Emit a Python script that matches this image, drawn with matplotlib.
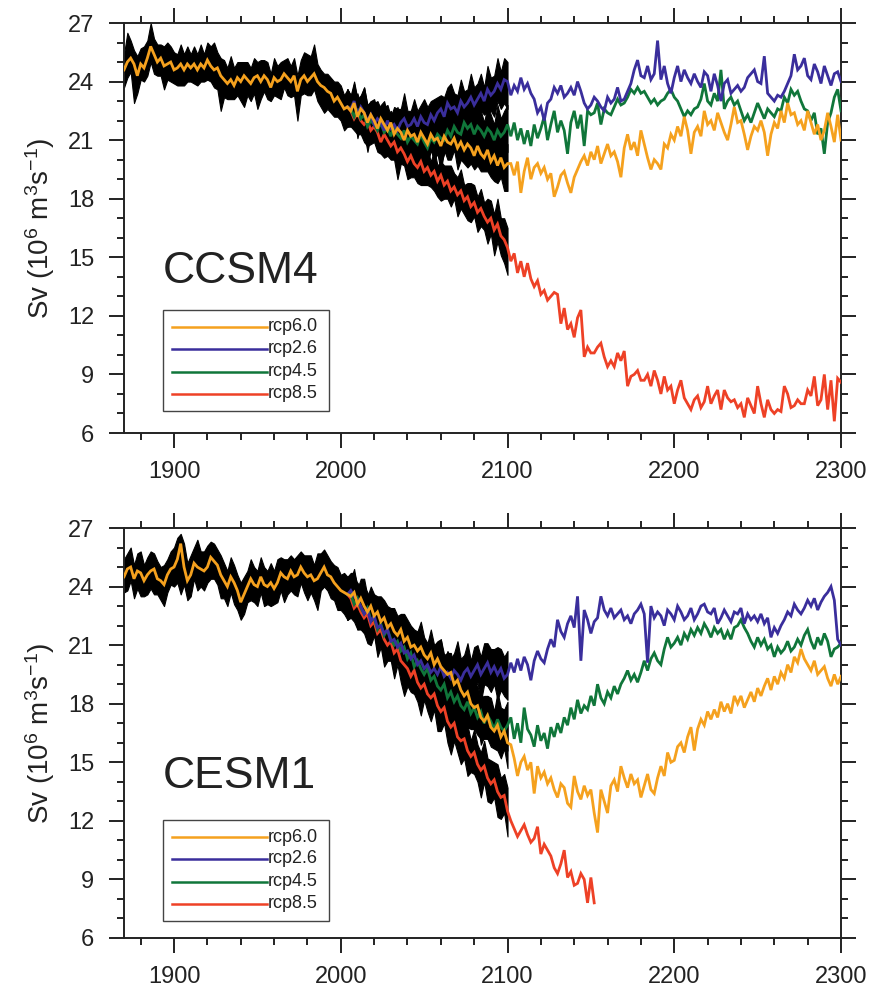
import numpy as np
import matplotlib
matplotlib.use("Agg")
import matplotlib.pyplot as plt
from matplotlib.ticker import MultipleLocator

plt.rcParams['font.family'] = ['Liberation Sans', 'DejaVu Sans']
plt.rcParams['mathtext.fontset'] = 'custom'
plt.rcParams['mathtext.rm'] = 'Liberation Sans'
plt.rcParams['mathtext.it'] = 'Liberation Sans:italic'

# ---------------- time axes (2-yearly samples) ----------------
HIST_START = 1870   # historical run, 1870-2004
SCEN_START = 2006   # scenario ensemble means, 2006-2100
POST_START = 2102   # extensions, 2102-2300
STEP = 2

scenarios = ["rcp6.0", "rcp2.6", "rcp4.5", "rcp8.5"]
colors = {"rcp6.0": "#F5A11E", "rcp2.6": "#3A2E9C", "rcp4.5": "#10763A", "rcp8.5": "#EE4126"}

# ======================= CCSM4 (top) =======================
ccsm4_hist = [24.6, 25.0, 25.2, 24.9, 24.3, 24.9, 24.7, 25.2, 25.8, 25.4,
              25.0, 25.2, 24.8, 24.9, 25.0, 24.6, 24.7, 24.9, 24.6, 24.9,
              24.7, 24.9, 24.6, 24.9, 24.7, 25.1, 24.8, 24.6, 24.7, 24.3,
              24.1, 23.9, 24.1, 23.8, 24.2, 24.0, 24.3, 24.1, 23.9, 24.2,
              24.3, 24.0, 24.3, 24.1, 23.7, 24.2, 24.0, 24.1, 24.4, 24.2,
              24.0, 24.3, 23.5, 24.1, 24.3, 24.0, 24.2, 24.4, 24.0, 23.8,
              23.7, 23.5, 23.4, 23.0, 23.2, 22.9, 22.6, 22.7]
ccsm4_hist_lo = [0.9, 0.8, 0.7, 2.0, 0.9, 0.8, 0.7, 0.9, 0.8, 1.0,
                 0.7, 0.9, 1.2, 0.8, 1.0, 0.7, 0.9, 1.1, 0.8, 0.9,
                 0.7, 1.0, 0.8, 0.9, 0.7, 1.0, 0.8, 0.9, 1.1, 1.8,
                 0.9, 0.8, 1.0, 0.7, 0.9, 1.0, 1.6, 0.8, 0.9, 0.8,
                 1.7, 0.9, 0.8, 1.0, 0.7, 0.9, 0.8, 1.0, 0.7, 0.9,
                 0.8, 1.0, 1.5, 0.8, 0.9, 0.7, 0.9, 0.8, 1.0, 1.1,
                 1.3, 0.9, 1.0, 0.8, 1.0, 0.9, 1.1, 1.0]
ccsm4_hist_hi = [0.8, 1.5, 0.9, 0.7, 1.0, 0.8, 1.1, 0.9, 1.2, 0.8,
                 0.9, 0.7, 1.0, 1.1, 0.8, 0.9, 0.7, 1.0, 0.8, 0.9,
                 0.7, 0.9, 0.8, 1.0, 0.7, 0.9, 1.0, 1.4, 0.8, 0.9,
                 1.0, 0.8, 1.2, 0.9, 0.8, 1.0, 0.7, 0.9, 0.8, 1.0,
                 0.7, 1.1, 0.8, 0.9, 0.7, 1.0, 0.8, 0.9, 0.7, 1.0,
                 0.8, 0.9, 0.8, 1.0, 1.2, 1.4, 1.1, 1.5, 0.9, 0.8,
                 0.7, 0.9, 0.8, 1.0, 0.8, 0.9, 0.7, 0.9]

ccsm4_scen_rcp60 = [22.5, 22.9, 22.2, 22.6, 22.4, 21.9, 22.3, 22.0, 21.6, 22.1,
                    21.8, 21.5, 21.9, 21.3, 21.6, 21.4, 21.0, 21.5, 21.2, 21.3,
                    20.9, 21.4, 21.1, 20.8, 21.3, 21.0, 21.1, 20.7, 21.2, 20.9,
                    20.8, 21.1, 20.6, 20.9, 20.5, 20.8, 20.6, 20.2, 20.7, 20.3,
                    20.1, 20.5, 19.9, 20.2, 19.7, 20.1, 19.6, 19.8]
ccsm4_scen_rcp26 = [22.6, 23.0, 22.3, 22.7, 22.4, 22.0, 22.3, 21.8, 22.1, 21.9,
                    21.5, 22.0, 21.6, 21.8, 21.5, 21.9, 22.1, 21.7, 21.8, 22.1,
                    21.7, 22.2, 21.9, 21.8, 22.3, 22.0, 22.4, 22.6, 22.2, 22.9,
                    22.6, 22.7, 22.4, 23.0, 22.7, 22.9, 23.2, 22.8, 23.1, 23.4,
                    23.0, 23.6, 23.3, 23.5, 23.9, 23.6, 24.1, 24.0]
ccsm4_scen_rcp45 = [22.6, 22.2, 22.6, 22.1, 22.3, 21.7, 22.0, 21.8, 21.5, 21.9,
                    21.4, 21.6, 21.2, 21.7, 21.3, 21.1, 21.5, 20.9, 21.2, 21.0,
                    20.8, 21.3, 20.9, 20.6, 21.1, 20.9, 21.3, 21.1, 21.0, 21.5,
                    21.2, 21.7, 21.4, 21.3, 21.9, 21.6, 21.8, 21.3, 21.7, 21.5,
                    21.2, 21.6, 21.4, 21.0, 21.5, 21.2, 21.4, 21.8]
ccsm4_scen_rcp85 = [22.5, 22.1, 22.4, 22.0, 21.8, 22.0, 21.5, 21.7, 21.4, 20.9,
                    21.3, 21.0, 20.7, 20.9, 20.4, 20.6, 20.3, 19.9, 20.2, 19.8,
                    19.6, 19.9, 19.4, 19.6, 19.2, 19.4, 18.9, 19.2, 18.7, 18.9,
                    18.4, 18.6, 18.2, 18.4, 17.9, 18.1, 17.6, 17.8, 17.3, 17.5,
                    17.1, 16.8, 17.0, 16.4, 16.7, 16.1, 15.9, 15.5]
ccsm4_scen_lo = [0.8, 0.6, 1.1, 0.7, 0.9, 1.3, 0.7, 0.8, 1.0, 0.6,
                 1.2, 0.8, 0.7, 0.9, 1.4, 0.8, 0.6, 0.9, 1.1, 0.7,
                 0.8, 1.2, 0.7, 0.9, 0.6, 1.0, 0.8, 1.3, 0.7, 0.9,
                 0.8, 0.6, 1.1, 0.9, 0.7, 1.2, 0.8, 0.7, 1.0, 0.9,
                 0.7, 1.1, 0.8, 1.3, 0.9, 1.0, 1.2, 1.4]
ccsm4_scen_hi = [0.7, 1.0, 0.8, 0.6, 1.3, 0.8, 0.7, 1.1, 0.9, 0.7,
                 1.2, 0.8, 0.6, 0.9, 1.1, 0.7, 1.3, 0.8, 0.7, 1.0,
                 0.8, 0.6, 1.2, 0.9, 0.7, 1.1, 0.8, 0.7, 1.0, 0.8,
                 1.3, 0.7, 0.9, 1.1, 0.8, 0.7, 1.2, 0.9, 0.8, 1.0,
                 0.7, 1.2, 0.9, 0.8, 1.3, 0.9, 1.1, 1.0]

ccsm4_post_rcp60 = [19.8, 19.2, 19.9, 18.3, 19.4, 20.1, 19.0, 19.6, 19.8, 19.3,
                    19.6, 19.0, 19.3, 18.1, 18.6, 19.2, 19.4, 18.8, 18.3, 19.1,
                    19.5, 19.9, 20.2, 19.7, 20.4, 20.0, 20.7, 19.8, 20.3, 20.8,
                    20.2, 20.4, 19.9, 19.1, 20.6, 21.3, 20.5, 20.9, 20.2, 21.5,
                    20.8, 20.1, 19.5, 20.0, 19.8, 19.5, 20.8, 20.6, 21.3, 21.0,
                    21.7, 21.2, 22.2, 21.5, 20.3, 21.4, 21.7, 21.2, 22.5, 21.8,
                    22.0, 21.5, 22.4, 21.9, 21.4, 21.0, 21.8, 22.7, 21.9, 22.0,
                    21.3, 20.5, 21.2, 21.7, 21.5, 22.0, 21.4, 20.2, 21.3, 21.9,
                    21.6, 22.5, 21.9, 22.9, 22.3, 22.4, 21.8, 22.0, 21.5, 22.5,
                    21.9, 21.3, 21.8, 21.0, 21.5, 22.4, 21.7, 20.9, 22.3, 21.0]
ccsm4_post_rcp26 = [23.3, 23.8, 23.5, 24.2, 23.6, 23.9, 23.4, 23.1, 22.4, 22.7,
                    22.0, 22.9, 23.1, 23.7, 23.4, 23.8, 23.2, 23.4, 23.7, 23.3,
                    24.0, 23.5, 22.9, 22.6, 22.8, 23.2, 23.0, 22.7, 22.5, 23.2,
                    22.9, 23.1, 23.7, 23.0, 23.1, 23.5, 23.9, 24.6, 25.1, 24.3,
                    24.2, 24.8, 24.1, 24.4, 26.1, 24.1, 24.8, 23.9, 23.4, 24.2,
                    24.8, 24.0, 24.6, 24.2, 23.9, 24.4, 24.0, 23.7, 24.5, 24.3,
                    23.5, 24.4, 23.8, 23.0, 23.9, 24.1, 23.4, 23.6, 23.8, 23.5,
                    23.7, 24.2, 24.4, 24.6, 24.0, 23.9, 25.3, 23.4, 23.2, 23.0,
                    23.3, 23.2, 23.5, 23.9, 24.3, 25.4, 24.6, 24.8, 25.2, 24.3,
                    24.1, 24.9, 24.5, 23.9, 24.8, 24.3, 23.8, 24.4, 24.5, 24.0]
ccsm4_post_rcp45 = [21.2, 21.9, 21.0, 21.6, 20.8, 21.5, 20.7, 21.8, 21.1, 21.6,
                    22.2, 21.0, 21.8, 22.5, 21.4, 22.0, 21.5, 20.3, 21.9, 22.5,
                    21.6, 22.3, 20.7, 22.5, 22.3, 22.4, 22.9, 21.8, 22.6, 22.4,
                    22.3, 22.7, 23.1, 22.8, 22.9, 23.2, 23.6, 23.4, 23.7, 23.4,
                    23.5, 23.2, 22.9, 23.1, 22.8, 23.0, 23.1, 23.4, 23.6, 23.2,
                    23.0, 22.6, 22.2, 22.5, 22.3, 22.6, 22.7, 23.1, 23.9, 23.0,
                    22.8, 23.4, 23.0, 24.6, 22.6, 23.0, 23.2, 22.8, 23.0, 22.5,
                    22.0, 22.3, 21.9, 22.4, 22.9, 22.5, 22.1, 22.6, 22.4, 22.2,
                    22.6, 22.5, 23.2, 22.9, 23.6, 23.3, 23.5, 23.0, 22.6, 22.5,
                    22.0, 22.4, 21.3, 21.6, 20.3, 21.9, 22.4, 23.2, 23.6, 22.5]
ccsm4_post_rcp85 = [14.8, 15.2, 14.2, 14.8, 14.0, 14.7, 13.9, 13.5, 13.8, 13.1,
                    13.3, 12.8, 13.0, 13.2, 13.1, 11.6, 12.4, 11.3, 11.6, 10.9,
                    11.9, 12.3, 9.9, 10.4, 10.1, 10.1, 10.4, 10.6, 9.9, 9.4,
                    9.7, 9.4, 10.1, 9.7, 10.2, 8.4, 8.9, 9.0, 9.2, 8.7,
                    8.7, 9.0, 8.4, 9.2, 8.7, 8.0, 8.9, 8.2, 8.4, 7.5,
                    8.2, 8.7, 7.8, 7.5, 7.2, 7.7, 7.9, 7.3, 7.6, 8.4,
                    7.5, 7.9, 8.2, 7.2, 8.2, 7.8, 7.6, 7.7, 7.3, 7.5,
                    6.8, 7.8, 7.4, 7.0, 8.4, 7.5, 6.8, 7.7, 7.2, 7.0,
                    7.2, 7.1, 8.4, 8.0, 7.3, 7.4, 7.7, 7.5, 7.5, 8.2,
                    7.9, 8.9, 7.4, 7.7, 9.0, 7.2, 8.7, 6.6, 8.8, 8.6]

# ======================= CESM1 (bottom) =======================
cesm1_hist = [24.5, 24.9, 25.0, 24.4, 24.8, 24.7, 24.3, 24.6, 24.8, 24.9,
              24.4, 24.3, 24.1, 24.6, 24.9, 25.0, 25.4, 26.2, 25.0, 24.3,
              24.6, 25.2, 25.0, 24.9, 24.8, 25.0, 25.5, 25.3, 25.1, 24.6,
              24.3, 24.0, 24.5, 24.2, 23.8, 23.2, 23.6, 24.0, 24.4, 24.1,
              24.0, 24.5, 24.1, 24.0, 24.2, 23.9, 24.2, 24.7, 24.5, 24.4,
              24.8, 24.5, 24.6, 25.0, 24.7, 24.5, 24.6, 24.3, 24.4, 24.7,
              25.0, 24.6, 24.5, 24.2, 24.0, 23.8, 23.7, 23.6]
cesm1_hist_lo = [0.8, 1.1, 0.7, 1.0, 0.9, 1.2, 0.8, 1.0, 0.9, 1.3,
                 0.8, 1.0, 1.1, 0.9, 0.8, 1.0, 1.2, 2.6, 0.9, 1.0,
                 1.1, 0.8, 1.2, 0.9, 1.0, 0.8, 1.1, 0.9, 1.0, 1.2,
                 0.9, 1.0, 0.8, 1.1, 1.0, 0.9, 1.0, 0.8, 1.1, 0.9,
                 1.0, 0.8, 1.1, 0.9, 1.2, 0.8, 1.0, 0.9, 1.3, 0.8,
                 1.0, 0.9, 1.1, 0.8, 1.0, 1.2, 0.9, 1.0, 1.6, 0.9,
                 1.0, 0.8, 1.1, 0.9, 1.2, 1.0, 1.1, 1.3]
cesm1_hist_hi = [0.9, 0.8, 1.0, 0.7, 0.9, 1.1, 0.8, 0.9, 1.0, 0.8,
                 0.9, 0.7, 1.0, 0.8, 0.9, 1.0, 1.1, 0.5, 1.2, 0.9,
                 1.0, 0.8, 1.4, 0.9, 1.0, 1.1, 0.8, 0.9, 0.8, 1.0,
                 0.9, 0.8, 1.0, 0.9, 0.8, 1.0, 0.9, 0.8, 1.0, 0.9,
                 0.8, 1.0, 0.9, 0.8, 1.0, 0.9, 1.2, 0.8, 0.9, 1.0,
                 0.8, 0.9, 1.0, 0.8, 0.9, 1.1, 1.0, 0.8, 1.3, 1.0,
                 0.9, 1.0, 0.8, 0.9, 1.0, 0.8, 1.0, 0.9]

cesm1_scen_rcp60 = [23.5, 23.7, 23.1, 23.4, 23.0, 22.7, 23.0, 22.5, 22.7, 22.2,
                    22.4, 21.9, 22.1, 21.7, 21.5, 21.8, 21.2, 21.4, 20.9, 21.0,
                    20.7, 20.9, 20.5, 20.3, 20.6, 20.0, 20.3, 19.9, 19.7, 19.5,
                    19.6, 19.0, 19.2, 18.7, 18.4, 18.6, 18.0, 17.8, 17.9, 17.3,
                    17.1, 17.4, 16.8, 16.6, 16.9, 16.3, 16.6, 16.0]
cesm1_scen_rcp26 = [23.8, 23.5, 23.3, 23.0, 22.6, 22.8, 22.2, 22.5, 21.9, 22.0,
                    21.6, 21.8, 21.2, 21.3, 20.9, 21.1, 20.6, 20.7, 20.3, 20.5,
                    20.0, 20.2, 19.8, 20.0, 19.6, 19.8, 19.5, 19.9, 19.4, 19.6,
                    19.3, 19.7, 19.5, 19.2, 19.6, 19.8, 19.4, 19.7, 20.0, 19.5,
                    19.8, 20.1, 19.6, 19.9, 19.5, 19.8, 19.3, 19.5]
cesm1_scen_rcp45 = [23.6, 23.1, 23.4, 22.9, 22.6, 22.9, 22.3, 22.4, 21.8, 22.1,
                    21.5, 21.8, 21.3, 21.0, 21.2, 20.7, 20.9, 20.3, 20.6, 19.9,
                    20.2, 19.8, 19.5, 19.8, 19.2, 19.4, 18.9, 18.7, 19.0, 18.3,
                    18.6, 18.1, 18.4, 17.9, 17.7, 18.1, 17.5, 17.8, 17.3, 17.6,
                    17.0, 17.4, 17.1, 16.7, 17.2, 16.8, 16.6, 16.9]
cesm1_scen_rcp85 = [23.4, 22.9, 23.1, 22.7, 22.4, 22.6, 22.0, 22.2, 21.6, 21.8,
                    21.3, 21.0, 21.2, 20.6, 20.8, 20.2, 20.0, 19.8, 19.4, 19.7,
                    19.1, 18.8, 19.0, 18.5, 18.3, 18.5, 17.9, 17.6, 17.8, 17.1,
                    16.8, 17.0, 16.3, 16.1, 16.2, 15.6, 15.3, 15.5, 14.9, 14.6,
                    14.8, 14.2, 13.9, 14.1, 13.5, 13.2, 13.3, 12.5]
cesm1_scen_lo = [1.0, 0.7, 1.3, 0.9, 0.8, 1.5, 1.0, 0.7, 1.2, 0.9,
                 1.4, 0.8, 1.0, 1.3, 0.8, 1.1, 1.6, 0.9, 0.8, 1.2,
                 1.0, 1.4, 0.8, 0.9, 1.2, 0.8, 1.3, 1.0, 0.8, 1.1,
                 1.4, 0.9, 0.8, 1.2, 1.0, 1.3, 0.8, 1.1, 0.9, 1.4,
                 0.8, 1.2, 1.0, 0.9, 1.3, 1.1, 0.9, 1.3]
cesm1_scen_hi = [0.9, 1.2, 0.8, 1.0, 1.4, 0.8, 1.0, 1.1, 0.8, 1.3,
                 0.9, 1.1, 0.8, 1.2, 1.0, 0.8, 1.4, 0.9, 1.1, 0.8,
                 1.0, 1.3, 0.9, 0.8, 1.2, 1.0, 0.9, 1.4, 0.8, 1.1,
                 1.0, 0.9, 1.7, 1.1, 0.9, 1.3, 0.8, 1.2, 1.0, 0.9,
                 1.3, 1.0, 1.2, 0.9, 1.4, 1.0, 1.1, 1.2]

cesm1_post_rcp60 = [15.9, 15.2, 14.3, 15.0, 15.3, 14.6, 15.0, 13.4, 14.8, 14.2,
                    14.5, 13.9, 14.2, 13.6, 13.2, 13.9, 13.7, 12.9, 12.7, 14.3,
                    13.5, 13.1, 13.8, 13.3, 13.6, 12.4, 11.4, 13.6, 13.0, 12.4,
                    13.8, 14.1, 13.5, 14.8, 14.2, 13.7, 14.4, 13.9, 14.1, 13.2,
                    13.8, 14.4, 13.6, 13.4, 14.2, 14.8, 14.3, 15.5, 15.0, 15.1,
                    15.8, 16.0, 15.5, 16.3, 16.8, 15.6, 16.7, 17.2, 16.9, 17.6,
                    17.2, 17.7, 17.3, 18.1, 17.6, 18.0, 17.5, 18.4, 18.0, 18.4,
                    17.8, 18.2, 18.6, 18.1, 18.8, 18.4, 18.9, 19.3, 18.7, 19.4,
                    19.0, 19.6, 19.3, 20.0, 19.6, 20.4, 20.1, 20.8, 20.3, 20.0,
                    19.7, 20.2, 19.5, 19.7, 19.9, 19.3, 18.9, 19.5, 19.0, 19.4]
cesm1_post_rcp26 = [20.1, 19.6, 20.3, 19.7, 20.4, 20.0, 19.2, 20.2, 20.7, 20.3,
                    20.1, 20.8, 21.3, 20.9, 22.3, 21.7, 21.4, 22.1, 22.5, 21.9,
                    23.5, 20.2, 22.8, 22.3, 21.6, 22.2, 22.4, 23.5, 22.8, 22.5,
                    22.9, 22.4, 22.6, 22.8, 22.3, 22.5, 22.1, 22.6, 22.8, 23.1,
                    22.6, 20.1, 23.0, 22.4, 22.7, 22.5, 22.0, 22.8, 22.6, 22.3,
                    23.0, 22.7, 22.3, 22.5, 22.9, 22.3, 22.6, 23.0, 23.1, 22.7,
                    22.6, 22.9, 22.1, 22.4, 22.8, 22.5, 22.2, 22.7, 22.6, 22.9,
                    22.1, 22.6, 22.3, 22.5, 22.2, 22.6, 22.1, 22.4, 21.4, 21.9,
                    21.6, 22.0, 22.3, 22.7, 22.5, 23.1, 22.8, 22.6, 22.9, 23.3,
                    23.0, 23.4, 22.8, 23.2, 23.5, 23.7, 24.0, 23.3, 21.3, 21.0]
cesm1_post_rcp45 = [17.3, 16.2, 17.0, 16.0, 17.8, 16.7, 16.4, 15.8, 16.9, 16.1,
                    16.5, 15.7, 16.8, 16.3, 17.0, 16.5, 17.3, 16.9, 17.8, 17.2,
                    18.2, 17.5, 17.9, 17.7, 18.4, 17.9, 19.0, 18.3, 18.0, 18.6,
                    18.3, 18.9, 18.5, 19.0, 19.3, 19.7, 19.2, 19.5, 19.1, 19.6,
                    20.2, 19.7, 20.3, 20.6, 20.2, 20.0, 20.8, 21.4, 20.9, 21.1,
                    21.4, 21.0, 21.6, 21.3, 21.8, 21.5, 21.9, 21.6, 22.1, 21.8,
                    21.4, 21.9, 21.6, 21.8, 21.3, 21.7, 21.3, 21.9, 22.0, 22.3,
                    21.9, 21.6, 21.2, 20.9, 21.4, 21.0, 21.3, 20.8, 21.0, 20.4,
                    20.9, 20.6, 20.8, 21.2, 20.7, 20.9, 21.3, 21.0, 21.5, 21.8,
                    21.2, 20.8, 21.4, 21.0, 21.6, 21.2, 20.4, 20.8, 20.9, 21.1]
cesm1_post_rcp85 = [12.0, 11.6, 11.2, 11.5, 11.8, 11.3, 10.9, 11.1, 11.7, 10.3,
                    10.8, 10.5, 10.2, 9.6, 9.3, 9.8, 10.5, 9.1, 9.4, 8.7,
                    8.8, 9.3, 9.0, 7.8, 9.1, 7.8]

# ---------------- labels / text ----------------
xticks_major = 100
xticks_minor = 20
yticks_major = 3
yticks_minor = 1
ylabel = r"Sv (10$^{6}$ m$^{3}$s$^{-1}$)"

panels = [
    dict(title="CCSM4", hist=ccsm4_hist, hist_lo=ccsm4_hist_lo, hist_hi=ccsm4_hist_hi,
         scen={"rcp6.0": ccsm4_scen_rcp60, "rcp2.6": ccsm4_scen_rcp26,
               "rcp4.5": ccsm4_scen_rcp45, "rcp8.5": ccsm4_scen_rcp85},
         scen_lo=ccsm4_scen_lo, scen_hi=ccsm4_scen_hi,
         post={"rcp6.0": ccsm4_post_rcp60, "rcp2.6": ccsm4_post_rcp26,
               "rcp4.5": ccsm4_post_rcp45, "rcp8.5": ccsm4_post_rcp85},
         rect=[124/871, 1-433/994, 717/871, 410/994],
         box=(0.054, 0.054, 0.232, 0.246), rows=[0.259, 0.205, 0.150, 0.096]),
    dict(title="CESM1", hist=cesm1_hist, hist_lo=cesm1_hist_lo, hist_hi=cesm1_hist_hi,
         scen={"rcp6.0": cesm1_scen_rcp60, "rcp2.6": cesm1_scen_rcp26,
               "rcp4.5": cesm1_scen_rcp45, "rcp8.5": cesm1_scen_rcp85},
         scen_lo=cesm1_scen_lo, scen_hi=cesm1_scen_hi,
         post={"rcp6.0": cesm1_post_rcp60, "rcp2.6": cesm1_post_rcp26,
               "rcp4.5": cesm1_post_rcp45, "rcp8.5": cesm1_post_rcp85},
         rect=[124/871, 1-938/994, 717/871, 410/994],
         box=(0.054, 0.041, 0.232, 0.247), rows=[0.246, 0.193, 0.137, 0.083]),
]


def yrs(start, arr):
    return start + STEP * np.arange(len(arr))


fig = plt.figure(figsize=(8.71, 9.94), dpi=100)

for p in panels:
    ax = fig.add_axes(p["rect"])
    hist = np.array(p["hist"])
    hlo = np.array(p["hist_lo"])
    hhi = np.array(p["hist_hi"])
    assert len(hist) == len(hlo) == len(hhi) == 68
    yh = yrs(HIST_START, hist)

    # ensemble spread (black)
    ax.fill_between(yh, hist - hlo, hist + hhi, color="black", lw=0.8,
                    edgecolor="black", zorder=1)
    slo = np.array(p["scen_lo"])
    shi = np.array(p["scen_hi"])
    for name in scenarios:
        s = np.array(p["scen"][name])
        assert len(s) == 48 == len(slo) == len(shi), name
        xs = np.concatenate([[yh[-1]], yrs(SCEN_START, s)])
        ys = np.concatenate([[hist[-1]], s])
        lo = np.concatenate([[hlo[-1]], slo])
        hi = np.concatenate([[hhi[-1]], shi])
        ax.fill_between(xs, ys - lo, ys + hi, color="black", lw=0.8,
                        edgecolor="black", zorder=1)

    # coloured lines
    z = {"rcp8.5": 3, "rcp4.5": 4, "rcp2.6": 5, "rcp6.0": 6}
    for name in scenarios:
        s = np.array(p["scen"][name])
        post = np.array(p["post"][name])
        if name == "rcp6.0":
            xs = np.concatenate([yh, yrs(SCEN_START, s), yrs(POST_START, post)])
            ys = np.concatenate([hist, s, post])
        else:
            xs = np.concatenate([[yh[-1]], yrs(SCEN_START, s), yrs(POST_START, post)])
            ys = np.concatenate([[hist[-1]], s, post])
        ax.plot(xs, ys, color=colors[name], lw=2.0, zorder=z[name],
                solid_joinstyle="miter")

    ax.set_xlim(1870, 2300)
    ax.set_ylim(6, 27)
    ax.xaxis.set_major_locator(MultipleLocator(xticks_major))
    ax.xaxis.set_minor_locator(MultipleLocator(xticks_minor))
    ax.yaxis.set_major_locator(MultipleLocator(yticks_major))
    ax.yaxis.set_minor_locator(MultipleLocator(yticks_minor))
    ax.tick_params(which="both", direction="out", top=True, right=True,
                   labeltop=False, labelright=False, width=1.4, colors="#222222")
    ax.tick_params(which="major", length=10.5, labelsize=17)
    ax.tick_params(which="minor", length=5)
    ax.tick_params(axis="x", which="major", pad=10)
    ax.tick_params(axis="y", which="major", pad=11)
    for sp in ax.spines.values():
        sp.set_linewidth(1.4)
        sp.set_color("#222222")
    ax.set_ylabel(ylabel, fontsize=20, labelpad=8, color="#222222")

    ax.text(0.054, 0.366, p["title"], transform=ax.transAxes, fontsize=32,
            va="baseline", ha="left", color="#222222", zorder=10)

    bx, by, bw, bh = p["box"]
    ax.add_patch(plt.Rectangle((bx, by), bw, bh, transform=ax.transAxes,
                               facecolor="white", edgecolor="#444444", lw=1.0, zorder=9))
    for name, ry in zip(scenarios, p["rows"]):
        ax.plot([0.067, 0.200], [ry, ry], transform=ax.transAxes,
                color=colors[name], lw=1.8, zorder=10)
        ax.text(0.200, ry, name, transform=ax.transAxes, fontsize=13,
                va="center", ha="left", color="#222222", zorder=10)

fig.savefig("out.png", dpi=100)
